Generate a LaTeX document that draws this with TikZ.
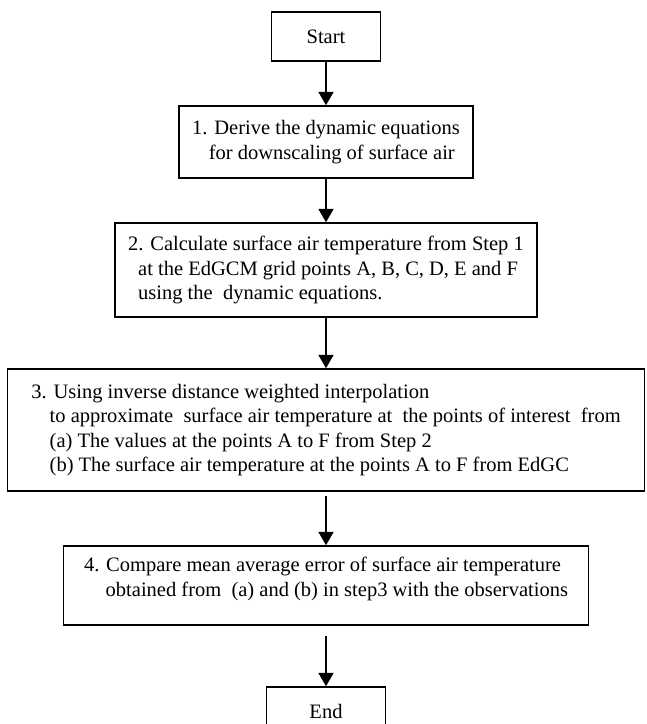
\documentclass[tikz,border=0pt]{standalone}
\usepackage{fontspec}
\setmainfont{Liberation Serif}
\usetikzlibrary{arrows.meta}

\tikzset{
  stepbox/.style={draw, line width=0.9pt, rectangle, align=left, inner xsep=8pt,
    font=\fontsize{12.3}{14.6}\selectfont},
  flow/.style={line width=0.9pt, -{Triangle[width=9pt,length=8pt]}}
}

\begin{document}
\begin{tikzpicture}[x=0.6pt, y=-0.6pt]
  \useasboundingbox (0,0) rectangle (647,724);

  \node[stepbox, minimum width=65.4pt, minimum height=29.4pt] (start) at (326,36.5) {Start};
  \node[stepbox, minimum width=174pt, minimum height=43.2pt] (step1) at (326,142)
    {1. Derive the dynamic equations\\ \hspace{10pt}for downscaling of surface air};
  \node[stepbox, minimum width=246pt, minimum height=56.4pt] (step2) at (326,270)
    {2. Calculate surface air temperature from Step 1\\
     \hspace{6pt}at the EdGCM grid points A, B, C, D, E and F\\
     \hspace{6pt}using the\ \ dynamic equations.};
  \node[stepbox, minimum width=382pt, minimum height=73.2pt] (step3) at (326,430)
    {3. Using inverse distance weighted interpolation\\
     \hspace{11pt}to approximate\ \ surface air temperature at\ \ the points of interest\ \ from\\
     \hspace{11pt}(a) The values at the points A to F from Step 2\\
     \hspace{11pt}(b) The surface air temperature at the points A to F from EdGC};
  \node[stepbox, minimum width=315pt, minimum height=47.4pt] (step4) at (326,585.5)
    {4. Compare mean average error of surface air temperature\\
     \hspace{13pt}obtained from\ \ (a) and (b) in step3 with the observations\\[-4pt]};
  \node[stepbox, minimum width=71.4pt, minimum height=29.4pt] (stop) at (326,711.5) {End};

  \draw[flow] (start) -- (step1);
  \draw[flow] (step1) -- (step2);
  \draw[flow] (step2) -- (step3);
  \draw[flow, shorten <=2.5pt] (step3) -- (step4);
  \draw[flow, shorten <=6pt] (step4) -- (stop);
\end{tikzpicture}
\end{document}
